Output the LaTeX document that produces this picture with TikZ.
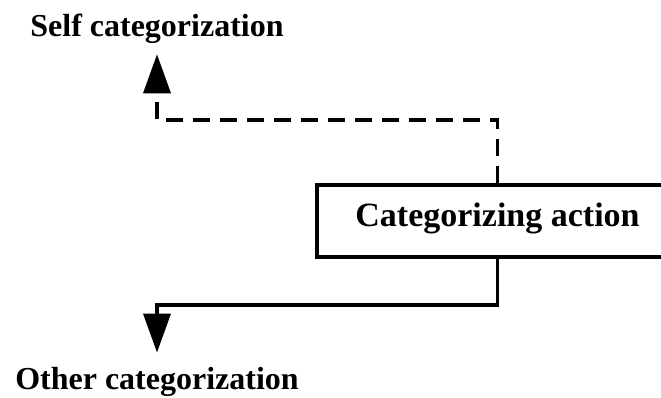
\documentclass[tikz,border=0pt]{standalone}
\usepackage{fontspec}
\setmainfont{Liberation Serif}
\usetikzlibrary{arrows.meta}
\begin{document}
\begin{tikzpicture}[x=1pt,y=-1pt,
  lbl/.style={font=\fontsize{32}{36}\selectfont\bfseries, inner sep=0pt, anchor=base},
  actbox/.style={draw, line width=3.5pt, minimum width=361pt, minimum height=72pt,
    inner sep=0pt, text height=20pt, text depth=10pt,
    font=\fontsize{34}{38}\selectfont\bfseries},
  conn/.style={line width=3.5pt, -{Triangle[length=39pt,width=27pt]}},
  dashconn/.style={conn, dash pattern=on 17pt off 10pt}]
\useasboundingbox (0,0) rectangle (661,397);
\node[lbl] (self) at (157,36) {Self categorization};
\node[lbl] (other) at (157,389) {Other categorization};
\node[actbox] (act) at (497.5,221) {Categorizing action};
\draw[dashconn, shorten >=11pt] (act.north) |- (self.south |- 0,120) -- (self.south);
\draw[conn, shorten >=14pt] (act.south) |- (other.north |- 0,305) -- (other.north);
\end{tikzpicture}
\end{document}
